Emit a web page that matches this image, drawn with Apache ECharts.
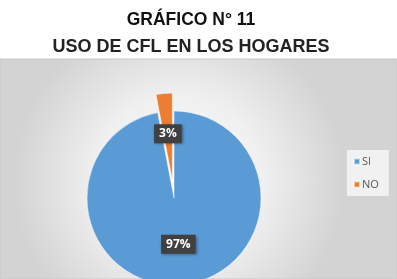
<!DOCTYPE html>
<html>
<head>
<meta charset="utf-8">
<script src="https://cdn.jsdelivr.net/npm/echarts@6/dist/echarts.min.js"></script>
<style>
html,body{margin:0;padding:0;background:#fff;}
#c{width:397px;height:279px;}
</style>
</head>
<body>
<div id="c"></div>
<script>
const titleLine1 = 'GRÁFICO N° 11';
const titleLine2 = 'USO DE CFL EN LOS HOGARES';
const categories = ['SI', 'NO'];
const values = [97, 3];
const colors = ['#5b9bd5', '#ed7d31'];

const chart = echarts.init(document.getElementById('c'), null, {renderer: 'canvas'});
const data = categories.map((name, i) => ({
  name: name,
  value: values[i],
  itemStyle: {color: colors[i]},
  selected: name === 'NO',
  label: name === 'NO' ? {offset: [0, 0]} : {}
}));

chart.setOption({
  animation: false,
  backgroundColor: '#ffffff',
  title: [
    {text: titleLine1, left: 186, top: 6, textAlign: 'center',
     textStyle: {fontFamily: 'Liberation Sans', fontWeight: 'bold', fontSize: 17.5, color: '#111'}},
    {text: titleLine2, left: 186, top: 33, textAlign: 'center',
     textStyle: {fontFamily: 'Liberation Sans', fontWeight: 'bold', fontSize: 18, color: '#222'}}
  ],
  graphic: [
    {type: 'rect', z: -10, shape: {x: 0, y: 59, width: 397, height: 220},
     style: {fill: new echarts.graphic.RadialGradient(0.45, 0.55, 0.75, [
       {offset: 0, color: '#fbfbfb'},
       {offset: 0.5, color: '#f0f0f0'},
       {offset: 1, color: '#d3d3d3'}
     ]), stroke: '#c8c8c8', lineWidth: 1}}
  ],
  legend: {
    orient: 'vertical',
    left: 347,
    top: 150,
    data: categories,
    icon: 'rect',
    itemWidth: 6,
    itemHeight: 6,
    itemGap: 12,
    padding: [6, 10, 6, 6],
    backgroundColor: '#f1f1f1',
    selectedMode: false,
    textStyle: {fontFamily: 'Open Sans', fontSize: 11, color: '#595959', padding: [0, 0, 0, -3]}
  },
  series: [{
    type: 'pie',
    center: [174, 198],
    radius: 87,
    startAngle: 90,
    clockwise: true,
    selectedMode: 'multiple',
    selectedOffset: 18,
    silent: true,
    itemStyle: {borderColor: 'rgba(255,255,255,0.6)', borderWidth: 0.8},
    label: {
      show: true,
      position: 'inside',
      formatter: '{c}%',
      color: '#ffffff',
      fontFamily: 'Open Sans',
      fontWeight: 'bold',
      fontSize: 12,
      backgroundColor: '#404040',
      padding: [4, 5, 3, 5],
      shadowColor: 'rgba(0,0,0,0.4)',
      shadowBlur: 3,
      shadowOffsetX: 1,
      shadowOffsetY: 1
    },
    labelLine: {show: false},
    data: data
  }]
});
</script>
</body>
</html>
